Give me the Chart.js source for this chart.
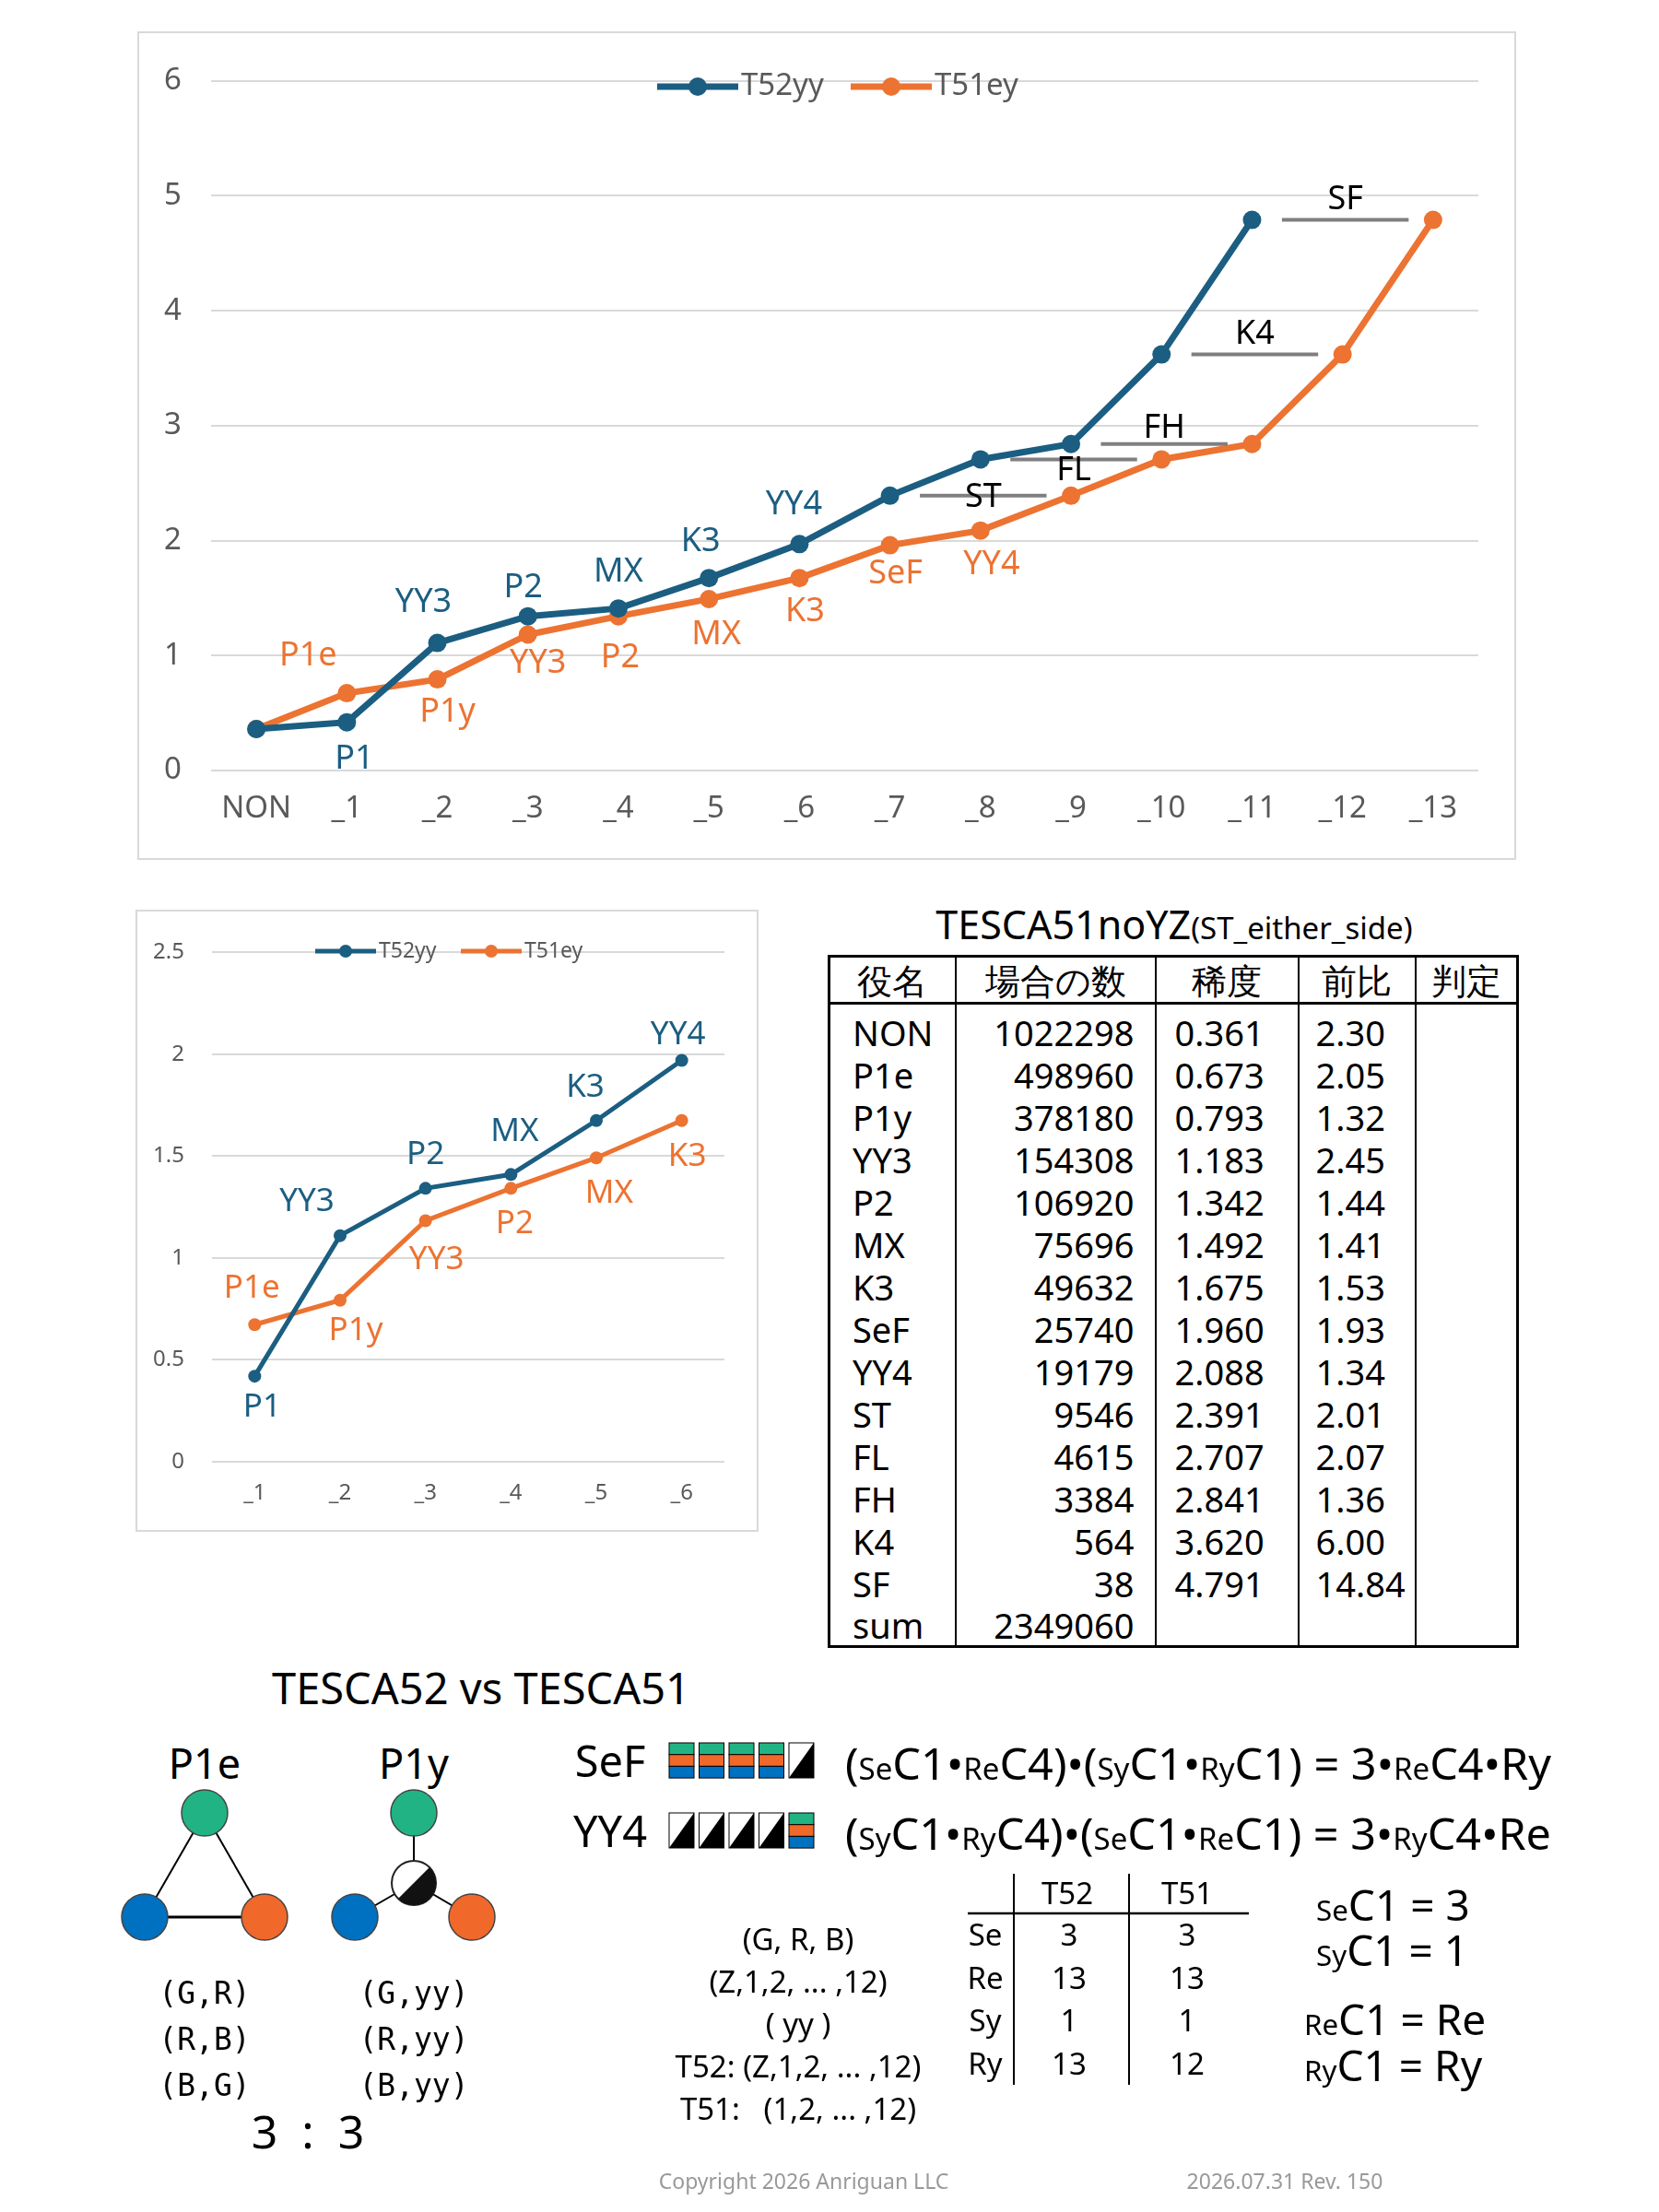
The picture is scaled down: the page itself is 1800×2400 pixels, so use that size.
<!DOCTYPE html>
<html><head><meta charset="utf-8">
<script src="https://cdn.jsdelivr.net/npm/chart.js@4"></script>
<style>
body{margin:0;width:1800px;height:2400px;background:#fff;position:relative;font-family:"Noto Sans","Open Sans",sans-serif;overflow:hidden}
.box{position:absolute;border:2px solid #d9d9d9;box-sizing:border-box;background:#fff}
.t{position:absolute;transform:translate(-50%,-50%);white-space:nowrap;color:#000}
.l{position:absolute;transform:translateY(-50%);white-space:nowrap;color:#000;transform-origin:0 50%}
table.k{position:absolute;left:898px;top:1036px;border-collapse:collapse;font-size:38px;border:3px solid #000}
table.k td,table.k th{border-left:2px solid #000;border-right:2px solid #000;padding:0 10px;height:46px;line-height:44px;font-weight:normal;box-sizing:border-box}
table.k th{border-bottom:3px solid #000;height:51px;text-align:center}
small{font-size:0.68em}
</style></head><body>
<div class="box" style="left:149px;top:34px;width:1496px;height:899px"><canvas id="c1"></canvas></div>
<div class="box" style="left:147px;top:987px;width:676px;height:675px"><canvas id="c2"></canvas></div>
<div class="t" style="left:1274px;top:1002px;font-size:43px">TESCA51noYZ<span style="font-size:33px">(ST_either_side)</span></div>
<table class="k" id="tbl"></table>
<div class="t" style="left:522px;top:1831px;font-size:47px">TESCA52 vs TESCA51</div>
<div class="t" style="left:222px;top:1912px;font-size:45px">P1e</div>
<div class="t" style="left:449px;top:1912px;font-size:45px">P1y</div>
<svg style="position:absolute;left:0;top:0" width="1800" height="2400">
<line x1="222" y1="1967" x2="157" y2="2080" stroke="#000" stroke-width="2"/>
<line x1="222" y1="1967" x2="287" y2="2080" stroke="#000" stroke-width="2"/>
<line x1="157" y1="2080" x2="287" y2="2080" stroke="#000" stroke-width="3"/>
<circle cx="222" cy="1967" r="25" fill="#21b383" stroke="#444" stroke-width="1.5"/>
<circle cx="157" cy="2080" r="25" fill="#0070c0" stroke="#444" stroke-width="1.5"/>
<circle cx="287" cy="2080" r="25" fill="#f0682a" stroke="#444" stroke-width="1.5"/>
<line x1="449" y1="1967" x2="449" y2="2043" stroke="#000" stroke-width="2"/>
<line x1="449" y1="2043" x2="385" y2="2080" stroke="#000" stroke-width="2"/>
<line x1="449" y1="2043" x2="512" y2="2080" stroke="#000" stroke-width="2"/>
<circle cx="449" cy="1967" r="25" fill="#21b383" stroke="#444" stroke-width="1.5"/>
<circle cx="385" cy="2080" r="25" fill="#0070c0" stroke="#444" stroke-width="1.5"/>
<circle cx="512" cy="2080" r="25" fill="#f0682a" stroke="#444" stroke-width="1.5"/>
<circle cx="449" cy="2043" r="24" fill="#fff" stroke="#222" stroke-width="2"/>
<path d="M466 2026 A24 24 0 0 1 432 2060 Z" fill="#111"/>
<g id="sq"></g>
<line x1="1100" y1="2033" x2="1100" y2="2262" stroke="#000" stroke-width="2"/>
<line x1="1225" y1="2033" x2="1225" y2="2262" stroke="#000" stroke-width="2"/>
<line x1="1050" y1="2076" x2="1355" y2="2076" stroke="#000" stroke-width="2.5"/>
</svg>
<div class="t" style="left:222px;top:2162px;font-size:33px;font-family:'DejaVu Sans Mono'">(G,R)</div>
<div class="t" style="left:222px;top:2212px;font-size:33px;font-family:'DejaVu Sans Mono'">(R,B)</div>
<div class="t" style="left:222px;top:2262px;font-size:33px;font-family:'DejaVu Sans Mono'">(B,G)</div>
<div class="t" style="left:449px;top:2162px;font-size:33px;font-family:'DejaVu Sans Mono'">(G,yy)</div>
<div class="t" style="left:449px;top:2212px;font-size:33px;font-family:'DejaVu Sans Mono'">(R,yy)</div>
<div class="t" style="left:449px;top:2262px;font-size:33px;font-family:'DejaVu Sans Mono'">(B,yy)</div>
<div class="t" style="left:334px;top:2312px;font-size:50px">3&nbsp;&nbsp;:&nbsp;&nbsp;3</div>
<div class="t" style="left:662px;top:1910px;font-size:47px">SeF</div>
<div class="t" style="left:662px;top:1986px;font-size:47px">YY4</div>
<div class="l fit" data-w="766" style="left:917px;top:1912px;font-size:48px">(<small>Se</small>C1•<small>Re</small>C4)•(<small>Sy</small>C1•<small>Ry</small>C1) = 3•<small>Re</small>C4•Ry</div>
<div class="l fit" data-w="766" style="left:917px;top:1988px;font-size:48px">(<small>Sy</small>C1•<small>Ry</small>C4)•(<small>Se</small>C1•<small>Re</small>C1) = 3•<small>Ry</small>C4•Re</div>
<div class="t" style="left:866px;top:2103px;font-size:33px">(G, R, B)</div>
<div class="t" style="left:866px;top:2149px;font-size:33px">(Z,1,2, ... ,12)</div>
<div class="t" style="left:866px;top:2195px;font-size:33px">( yy )</div>
<div class="t" style="left:866px;top:2241px;font-size:33px">T52: (Z,1,2, ... ,12)</div>
<div class="t" style="left:866px;top:2287px;font-size:33px">T51:&nbsp;&nbsp; (1,2, ... ,12)</div>
<div class="t" style="left:1158px;top:2053px;font-size:33px">T52</div>
<div class="t" style="left:1288px;top:2053px;font-size:33px">T51</div>
<div id="st"></div>
<div class="l" style="left:1428px;top:2066px;font-size:46px"><small>Se</small>C1 = 3</div>
<div class="l" style="left:1428px;top:2115px;font-size:46px"><small>Sy</small>C1 = 1</div>
<div class="l" style="left:1415px;top:2190px;font-size:46px"><small>Re</small>C1 = Re</div>
<div class="l" style="left:1415px;top:2240px;font-size:46px"><small>Ry</small>C1 = Ry</div>
<div class="t" style="left:872px;top:2366px;font-size:23px;color:#999">Copyright 2026 Anriguan LLC</div>
<div class="t" style="left:1394px;top:2366px;font-size:23px;color:#999">2026.07.31 Rev. 150</div>
<script>
const mainCats=['NON','_1','_2','_3','_4','_5','_6','_7','_8','_9','_10','_11','_12','_13'];
const blueVals=[0.361,0.42,1.11,1.342,1.41,1.675,1.97,2.391,2.707,2.841,3.62,4.791,null,null];
const orangeVals=[0.361,0.673,0.793,1.183,1.342,1.492,1.675,1.96,2.088,2.391,2.707,2.841,3.62,4.791];
const blueLabels=['','P1','YY3','P2','MX','K3','YY4'];
const orangeLabels=['','P1e','P1y','YY3','P2','MX','K3','SeF','YY4'];
const gapNames=['ST','FL','FH','K4','SF'];
const gapFrom=[7,8,9,10,11];
const smallCats=['_1','_2','_3','_4','_5','_6'];
const smallBlue=[0.42,1.11,1.342,1.41,1.675,1.97];
const smallOrange=[0.673,0.793,1.183,1.342,1.492,1.675];
const smallBlueLabels=['P1','YY3','P2','MX','K3','YY4'];
const smallOrangeLabels=['P1e','P1y','YY3','P2','MX','K3'];
const yakumei=['NON','P1e','P1y','YY3','P2','MX','K3','SeF','YY4','ST','FL','FH','K4','SF','sum'];
const counts=['1022298','498960','378180','154308','106920','75696','49632','25740','19179','9546','4615','3384','564','38','2349060'];
const rarity=['0.361','0.673','0.793','1.183','1.342','1.492','1.675','1.960','2.088','2.391','2.707','2.841','3.620','4.791',''];
const ratio=['2.30','2.05','1.32','2.45','1.44','1.41','1.53','1.93','1.34','2.01','2.07','1.36','6.00','14.84',''];
const stRows=['Se','Re','Sy','Ry'];const stT52=['3','13','1','13'];const stT51=['3','13','1','12'];

const BLUE='#1b5e81',ORANGE='#ec7331';
let h='<tr><th style="width:137px">役名</th><th style="width:217px">場合の数</th><th style="width:155px">稀度</th><th style="width:124px">前比</th><th style="width:111px">判定</th></tr>';
yakumei.forEach((n,i)=>{const pt=i==0?'padding-top:8px;height:54px;':'';
h+=`<tr><td style="${pt}padding-left:24px">${n}</td><td style="${pt}text-align:right;padding-right:22px">${counts[i]}</td><td style="${pt}padding-left:20px">${rarity[i]}</td><td style="${pt}padding-left:18px">${ratio[i]}</td><td style="${pt}"></td></tr>`});
document.getElementById('tbl').innerHTML=h;
let s='';stRows.forEach((r,i)=>{const y=2098+i*46.5;
s+=`<div class="t" style="left:1069px;top:${y}px;font-size:33px">${r}</div><div class="t" style="left:1160px;top:${y}px;font-size:33px">${stT52[i]}</div><div class="t" style="left:1288px;top:${y}px;font-size:33px">${stT51[i]}</div>`});
document.getElementById('st').innerHTML=s;
document.querySelectorAll('.fit').forEach(e=>{const w=e.getBoundingClientRect().width;e.style.transform=`translateY(-50%) scaleX(${(+e.dataset.w)/w})`});
const NS='http://www.w3.org/2000/svg';const g=document.getElementById('sq');
function rect(x,y,w,hh,f){const r=document.createElementNS(NS,'rect');r.setAttribute('x',x);r.setAttribute('y',y);r.setAttribute('width',w);r.setAttribute('height',hh);r.setAttribute('fill',f);r.setAttribute('stroke','#000');r.setAttribute('stroke-width','1');g.appendChild(r)}
function tri(x,y){const w=27,hh=38;rect(x,y,w,hh,'#fff');const p=document.createElementNS(NS,'path');p.setAttribute('d',`M${x+w} ${y} L${x+w} ${y+hh} L${x} ${y+hh} Z`);p.setAttribute('fill','#000');g.appendChild(p)}
function col(x,y){rect(x,y,27,12.7,'#21b383');rect(x,y+12.7,27,12.7,'#f0682a');rect(x,y+25.4,27,12.7,'#0070c0')}
for(let i=0;i<5;i++){const x=726+i*32.5;if(i<4)col(x,1891);else tri(x,1891);if(i<4)tri(x,1967);else col(x,1967)}

function makeChart(id,cats,b,o,cfg){
 const labelPlugin={id:'lbl'+id,afterDatasetsDraw(ch){const ctx=ch.ctx;const xs=ch.scales.x,ys=ch.scales.y;
  ctx.save();ctx.textAlign='center';ctx.textBaseline='middle';
  [[BLUE,'T52yy',cfg.leg[0]],[ORANGE,'T51ey',cfg.leg[1]]].forEach(([c,t,x0])=>{const y=cfg.legY;ctx.strokeStyle=c;ctx.lineWidth=cfg.lw;ctx.beginPath();ctx.moveTo(x0,y);ctx.lineTo(x0+cfg.ll,y);ctx.stroke();ctx.fillStyle=c;ctx.beginPath();ctx.arc(x0+cfg.ll/2,y,cfg.pr,0,7);ctx.fill();
   ctx.fillStyle='#595959';ctx.font=`${cfg.legf}px "Noto Sans"`;ctx.textAlign='left';ctx.fillText(t,x0+cfg.ll+3,y);ctx.textAlign='center'});
  ctx.font=`${cfg.lf}px "Noto Sans"`;
  cfg.labels.forEach(([arr,vals,offs,color])=>{arr.forEach((t,i)=>{if(!t)return;ctx.fillStyle=color;ctx.fillText(t,xs.getPixelForValue(i)+offs[i][0],ys.getPixelForValue(vals[i])+offs[i][1])})});
  if(cfg.gaps){gapNames.forEach((n,k)=>{const i=gapFrom[k];const v=b[i];const x1=xs.getPixelForValue(i+0.33),x2=xs.getPixelForValue(i+1.73);const y=ys.getPixelForValue(v);
   ctx.strokeStyle='#7f7f7f';ctx.lineWidth=4;ctx.beginPath();ctx.moveTo(x1,y);ctx.lineTo(x2,y);ctx.stroke();ctx.fillStyle='#000';ctx.fillText(n,(x1+x2)/2,y+cfg.gapOff[k])})}
  ctx.restore()}};
 return new Chart(document.getElementById(id),{type:'line',data:{labels:cats,datasets:[
  {label:'T52yy',data:b,borderColor:BLUE,backgroundColor:BLUE,borderWidth:cfg.lw,pointRadius:cfg.pr,pointBackgroundColor:BLUE,pointBorderWidth:0},
  {label:'T51ey',data:o,borderColor:ORANGE,backgroundColor:ORANGE,borderWidth:cfg.lw,pointRadius:cfg.pr,pointBackgroundColor:ORANGE,pointBorderWidth:0}]},
  options:{responsive:false,animation:false,devicePixelRatio:1,
   layout:{padding:cfg.pad},
   plugins:{tooltip:{enabled:false},legend:{display:false}},
   scales:{x:{offset:true,grid:{display:false},border:{display:false},ticks:{color:'#595959',font:{size:cfg.tf,family:'Noto Sans'},padding:cfg.xpad,maxRotation:0,autoSkip:false},afterFit(s){s.height=cfg.xh}},
    y:{min:0,max:cfg.ymax,grid:{color:'#d9d9d9',lineWidth:2,drawTicks:false},border:{display:false},ticks:{stepSize:cfg.step,color:'#595959',font:{size:cfg.tf,family:'Noto Sans'},padding:cfg.ypad,callback:v=>String(+v)},afterFit(s){s.width=cfg.yw}}}},
  plugins:[labelPlugin]});
}
const c1=document.getElementById('c1');c1.width=1492;c1.height=895;
const c2=document.getElementById('c2');c2.width=672;c2.height=671;
const o0=[0,0];
makeChart('c1',mainCats,blueVals,orangeVals,{lw:7,pr:10,ll:88,lf:36,tf:33,legf:33,leg:[562,772],legY:58,ymax:6,step:1,pad:{left:0,right:39,top:38,bottom:0},xh:95,yw:78,xpad:14,ypad:32,gaps:true,gapOff:[2,12,-17,-22,-22],
 labels:[[blueLabels,blueVals,[o0,[8,40],[-15,-44],[-5,-31],[0,-39],[-9,-39],[-6,-43]],BLUE],[orangeLabels,orangeVals,[o0,[-42,-40],[11,36],[11,31],[2,45],[8,39],[6,37],[6,31],[12,37]],ORANGE]]});
makeChart('c2',smallCats,smallBlue,smallOrange,{lw:5,pr:7,ll:66,lf:35,tf:24,legf:23,leg:[193,351],legY:43,ymax:2.5,step:0.5,pad:{left:0,right:35,top:20,bottom:0},xh:74,yw:81,xpad:12,ypad:30,gaps:false,
 labels:[[smallBlueLabels,smallBlue,[[8,34],[-36,-37],[0,-36],[4,-46],[-12,-36],[-4,-28]],BLUE],[smallOrangeLabels,smallOrange,[[-3,-39],[17,33],[12,43],[4,39],[14,39],[6,39]],ORANGE]]});
</script>
</body></html>
